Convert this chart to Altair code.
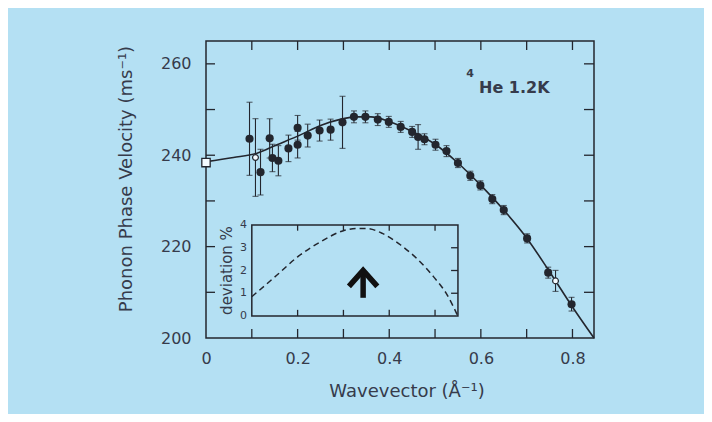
import altair as alt
import pandas as pd

# ---------------- data ----------------
pt_x = [0.095, 0.119, 0.139, 0.145, 0.158, 0.180, 0.200, 0.200, 0.222, 0.248,
        0.272, 0.298, 0.323, 0.348, 0.375, 0.399, 0.425, 0.450, 0.463, 0.477,
        0.501, 0.525, 0.550, 0.577, 0.599, 0.625, 0.650, 0.701, 0.747, 0.798]
pt_y = [243.6, 236.3, 243.7, 239.4, 238.8, 241.5, 242.3, 246.0, 244.3, 245.4,
        245.6, 247.2, 248.4, 248.4, 247.8, 247.3, 246.2, 245.1, 244.0, 243.5,
        242.3, 240.9, 238.3, 235.5, 233.4, 230.4, 228.0, 221.8, 214.3, 207.4]
pt_err = [8.0, 5.0, 4.3, 3.0, 3.3, 2.9, 2.9, 2.7, 2.5, 2.3,
          2.3, 5.7, 1.3, 1.3, 1.3, 1.2, 1.2, 1.2, 2.7, 1.2,
          1.2, 1.2, 1.0, 1.0, 1.0, 1.0, 1.0, 1.0, 1.2, 1.5]

open_x = [0.108, 0.763]
open_y = [239.5, 212.5]
open_err = [8.5, 2.3]

sq_x = [0.0]
sq_y = [238.4]

curve_x = [0.0, 0.06, 0.11, 0.155, 0.205, 0.25, 0.295, 0.33, 0.36, 0.40,
           0.45, 0.50, 0.55, 0.60, 0.65, 0.70, 0.75, 0.80, 0.847]
curve_y = [238.6, 239.5, 240.4, 242.3, 244.4, 246.5, 247.9, 248.4, 248.4, 247.4,
           245.2, 242.4, 238.3, 233.4, 228.0, 221.9, 214.5, 206.8, 200.0]

dev_x = [0.100, 0.155, 0.200, 0.250, 0.300, 0.330, 0.350, 0.385, 0.425, 0.460,
         0.497, 0.527, 0.549]
dev_y = [0.85, 1.80, 2.60, 3.26, 3.75, 3.85, 3.85, 3.63, 3.12, 2.53,
         1.72, 0.91, 0.03]

x_label_vals = [0, 0.2, 0.4, 0.6, 0.8]
x_tick_vals = [0.1, 0.2, 0.3, 0.4, 0.5, 0.6, 0.7, 0.8]
y_label_vals = [200, 220, 240, 260]
y_tick_vals = [210, 220, 230, 240, 250, 260]
inset_x_ticks = [0.2, 0.3, 0.4, 0.5]
inset_y_labels = [0, 1, 2, 3, 4]
inset_y_ticks = [1, 2, 3]
inset_x_range = [0.1, 0.55]
inset_y_range = [0, 4]

arrow_q = [0.343]
arrow_stem_lo = [0.8]
arrow_stem_hi = [1.85]
arrow_head_x = [0.312, 0.343, 0.374]
arrow_head_y = [1.3, 2.0, 1.3]

y_title = "Phonon  Phase  Velocity (ms⁻¹)"
x_title = "Wavevector (Å⁻¹)"
inset_title = "deviation %"
iso_sup = "4"
iso_text = "He  1.2K"

# ---------------- styling ----------------
BG = "#b4e0f3"
INK = "#23262e"
TXT = "#363b4b"
FONT = "DejaVu Sans"
W, H = 388, 297

x_scale = alt.Scale(domain=[0, 0.847], nice=False, zero=False)
y_scale = alt.Scale(domain=[200, 265], nice=False, zero=False)
inset_scale = alt.Scale(domain=[0, 4], range=[275, 184], nice=False, zero=False)

x_axis = alt.Axis(values=x_label_vals, format=".1~f", ticks=False, domain=False,
                  grid=False, title=None, labelPadding=12, labelFontSize=16,
                  labelColor=TXT, labelFont=FONT, labelFlush=False)

pts = pd.DataFrame({"q": pt_x, "v": pt_y,
                    "lo": [a - b for a, b in zip(pt_y, pt_err)],
                    "hi": [a + b for a, b in zip(pt_y, pt_err)]})
opn = pd.DataFrame({"q": open_x, "v": open_y,
                    "lo": [a - b for a, b in zip(open_y, open_err)],
                    "hi": [a + b for a, b in zip(open_y, open_err)]})
sq = pd.DataFrame({"q": sq_x, "v": sq_y})
curve = pd.DataFrame({"q": curve_x, "v": curve_y})
dev = pd.DataFrame({"q": dev_x, "d": dev_y})
all_err = pd.concat([pts, opn], ignore_index=True)


def X(f="q"):
    return alt.X(f, type="quantitative", scale=x_scale, axis=x_axis)


def Y(f="v"):
    return alt.Y(f, type="quantitative", scale=y_scale, axis=None)


def YI(f="d"):
    return alt.Y(f, type="quantitative", scale=inset_scale, axis=None)


curve_layer = alt.Chart(curve).mark_line(color=INK, strokeWidth=1.6, interpolate="monotone").encode(
    x=X(),
    y=alt.Y("v:Q", scale=y_scale,
            axis=alt.Axis(values=y_label_vals, ticks=False, domain=False, grid=False,
                          title=None, labelPadding=15, labelFontSize=16,
                          labelColor=TXT, labelFont=FONT, orient="left")),
)

err_rules = alt.Chart(all_err).mark_rule(color=INK, strokeWidth=1.1).encode(
    x=X(), y=Y("lo"), y2="hi:Q")
cap_lo = alt.Chart(all_err).mark_tick(color=INK, thickness=1.1, size=6, orient="horizontal").encode(
    x=X(), y=Y("lo"))
cap_hi = alt.Chart(all_err).mark_tick(color=INK, thickness=1.1, size=6, orient="horizontal").encode(
    x=X(), y=Y("hi"))

pts_layer = alt.Chart(pts).mark_circle(color=INK, size=66, opacity=1).encode(x=X(), y=Y())
open_layer = alt.Chart(opn).mark_point(shape="circle", filled=True, fill="#f4fbff", stroke=INK,
                                       strokeWidth=1.2, size=34, opacity=1).encode(x=X(), y=Y())
sq_layer = alt.Chart(sq).mark_point(shape="square", filled=True, fill="#f4fbff", stroke=INK,
                                    strokeWidth=1.3, size=70, opacity=1).encode(x=X(), y=Y())

xt = pd.DataFrame({"q": x_tick_vals})
yt = pd.DataFrame({"v": y_tick_vals})
tick_bottom = alt.Chart(xt).mark_rule(color=INK, strokeWidth=1.3).encode(
    x=X(), y=alt.value(H), y2=alt.value(H - 9))
tick_top = alt.Chart(xt).mark_rule(color=INK, strokeWidth=1.3).encode(
    x=X(), y=alt.value(0), y2=alt.value(9))
tick_left = alt.Chart(yt).mark_rule(color=INK, strokeWidth=1.3).encode(
    y=Y(), x=alt.value(0), x2=alt.value(9))
tick_right = alt.Chart(yt).mark_rule(color=INK, strokeWidth=1.3).encode(
    y=Y(), x=alt.value(W), x2=alt.value(W - 10))


def txt(s, x, y, size, weight="normal", angle=0, align="center"):
    return alt.Chart(pd.DataFrame({"t": [s]})).mark_text(
        font=FONT, fontSize=size, fontWeight=weight, color=TXT, angle=angle,
        align=align, baseline="middle").encode(
        x=alt.value(x), y=alt.value(y), text="t:N")


y_title_layer = txt(y_title, -79, 138, 18, angle=270)
x_title_layer = txt(x_title, 201, 351, 18)
iso_sup_layer = txt(iso_sup, 264, 33, 11, weight="bold")
iso_layer = txt(iso_text, 273, 47, 16, weight="bold", align="left")

# ---------------- inset ----------------
box_df = pd.DataFrame({"q": [inset_x_range[0]], "q2": [inset_x_range[1]],
                       "d": [inset_y_range[0]], "d2": [inset_y_range[1]]})
box = alt.Chart(box_df).mark_rect(fill=BG, stroke=INK, strokeWidth=1.5).encode(
    x=X(), x2="q2:Q", y=YI(), y2="d2:Q")
dev_layer = alt.Chart(dev).mark_line(color=INK, strokeWidth=1.5, strokeDash=[6, 4],
                                     interpolate="monotone").encode(x=X(), y=YI())

ixt_b = pd.DataFrame({"q": inset_x_ticks, "d": [0.0] * len(inset_x_ticks),
                      "d2": [0.27] * len(inset_x_ticks)})
ixt_t = pd.DataFrame({"q": inset_x_ticks, "d": [4.0] * len(inset_x_ticks),
                      "d2": [3.75] * len(inset_x_ticks)})
iyt = pd.DataFrame({"d": inset_y_ticks, "q": [inset_x_range[1]] * len(inset_y_ticks),
                    "q2": [0.535] * len(inset_y_ticks)})
ityl = pd.DataFrame({"d": inset_y_labels})
in_tick_bot = alt.Chart(ixt_b).mark_rule(color=INK, strokeWidth=1.3).encode(
    x=X(), y=YI(), y2="d2:Q")
in_tick_top = alt.Chart(ixt_t).mark_rule(color=INK, strokeWidth=1.3).encode(
    x=X(), y=YI(), y2="d2:Q")
in_tick_right = alt.Chart(iyt).mark_rule(color=INK, strokeWidth=1.3).encode(
    y=YI(), x=X(), x2="q2:Q")
in_labels = alt.Chart(ityl).mark_text(font=FONT, fontSize=11, color=TXT, align="right",
                                      baseline="middle").encode(
    y=YI(), x=alt.value(41), text="d:N")
in_title = alt.Chart(pd.DataFrame({"t": [inset_title], "d": [2.0]})).mark_text(
    font=FONT, fontSize=15, color=TXT, angle=270, align="center", baseline="middle").encode(
    y=YI(), x=alt.value(21), text="t:N")

arrow_stem_layer = alt.Chart(pd.DataFrame({"q": arrow_q, "d": arrow_stem_lo, "d2": arrow_stem_hi})).mark_rule(
    color="#111111", strokeWidth=5.5, strokeCap="butt").encode(
    x=X(), y=YI(), y2="d2:Q")
arrow_head_layer = alt.Chart(pd.DataFrame({"q": arrow_head_x, "d": arrow_head_y, "o": [0, 1, 2]})).mark_line(
    color="#111111", strokeWidth=5.5, strokeJoin="miter", strokeCap="butt").encode(
    x=X(), y=YI(), order="o:Q")

chart = alt.layer(
    curve_layer, err_rules, cap_lo, cap_hi, pts_layer, open_layer, sq_layer,
    tick_bottom, tick_top, tick_left, tick_right,
    y_title_layer, x_title_layer, iso_sup_layer, iso_layer,
    box, dev_layer, in_tick_bot, in_tick_top, in_tick_right, in_labels, in_title,
    arrow_stem_layer, arrow_head_layer,
).resolve_scale(y="independent").properties(
    width=W, height=H,
    autosize=alt.AutoSizeParams(type="none"),
    padding={"left": 198, "top": 33, "right": 110, "bottom": 76},
    background=BG,
).configure_view(stroke=INK, strokeWidth=1.5).configure_axis(grid=False)

chart.save("out.html", embed_options={"renderer": "svg", "actions": False})
